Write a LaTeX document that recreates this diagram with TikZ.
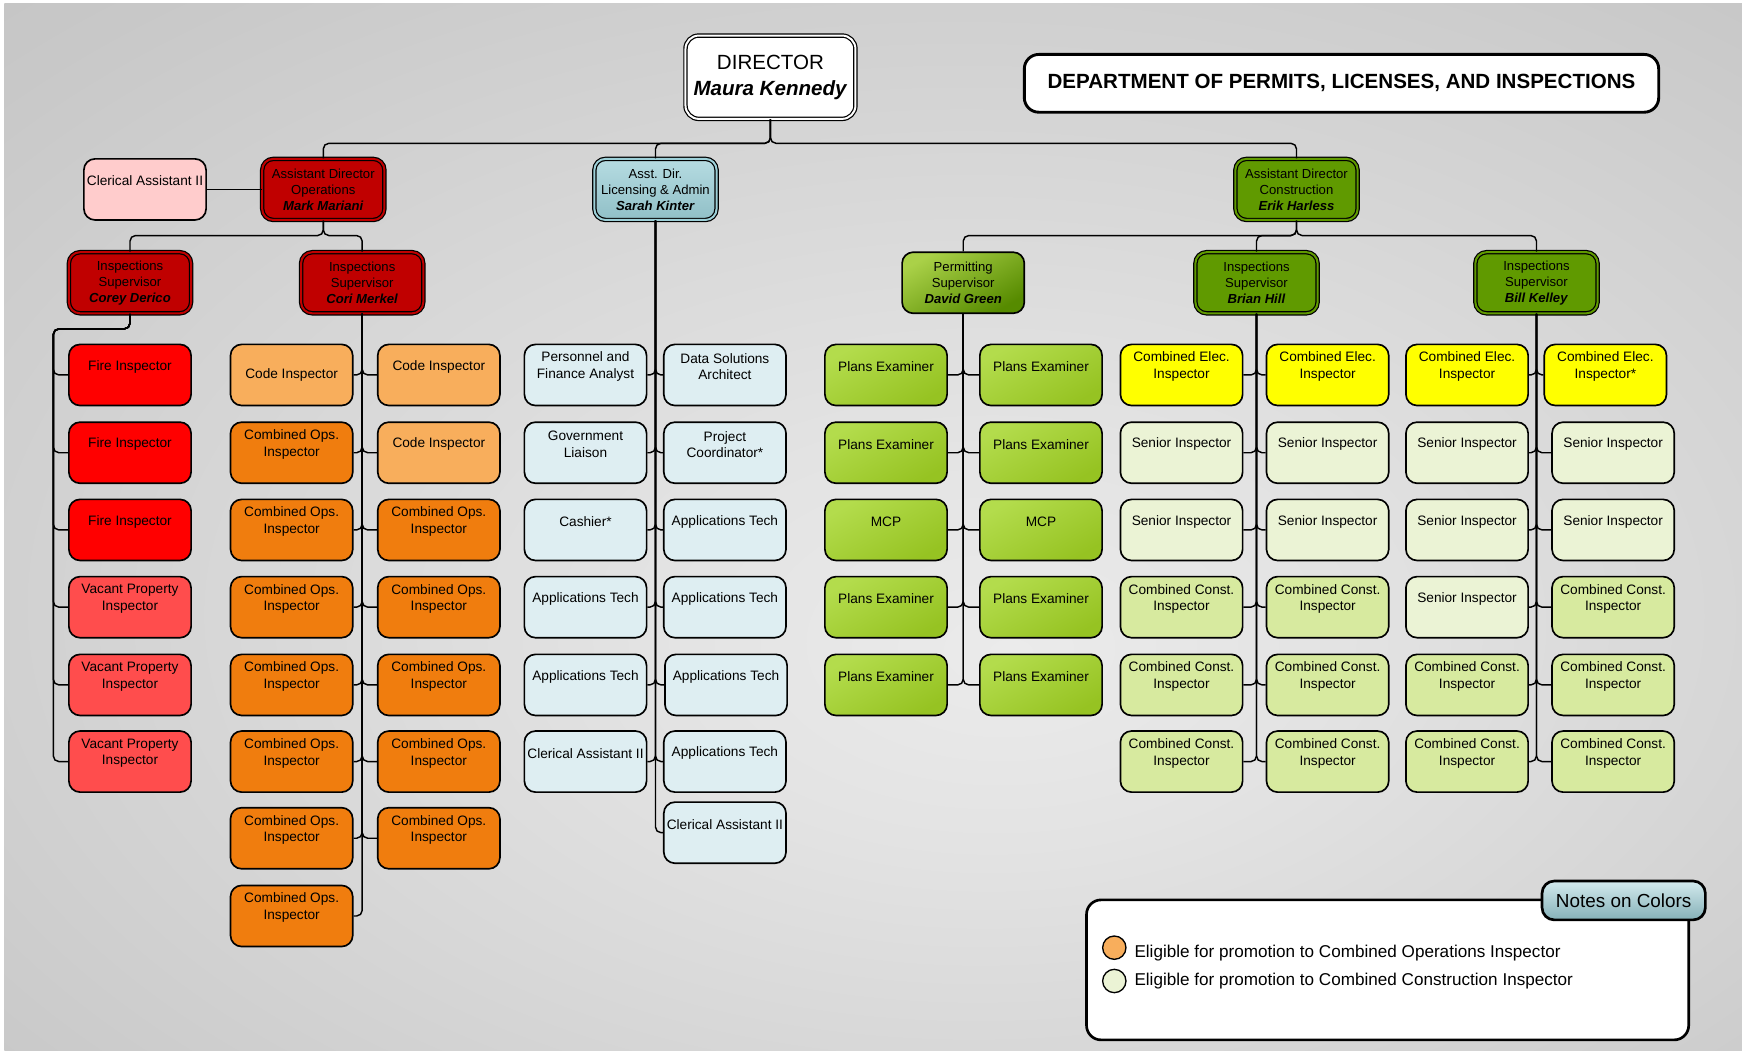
\documentclass[tikz,border=0pt]{standalone}
\usepackage{fontspec}
\setmainfont{Liberation Sans}
\definecolor{bgin}{HTML}{EBEBEB}
\definecolor{bgin2}{HTML}{E3E3E3}
\definecolor{bgmid}{HTML}{C8C8C8}
\definecolor{bgmid2}{HTML}{BEBEBE}
\definecolor{bgout}{HTML}{B7B7B7}
\definecolor{dred}{HTML}{C00000}
\definecolor{fire}{HTML}{FF0000}
\definecolor{vac}{HTML}{FF4D4D}
\definecolor{pinkc}{HTML}{FFCCCC}
\definecolor{codeor}{HTML}{F8AE5C}
\definecolor{combor}{HTML}{F07D0E}
\definecolor{lblue}{HTML}{DEEEF2}
\definecolor{tealc}{HTML}{9DD0D8}
\definecolor{dgreen}{HTML}{609A00}
\definecolor{yel}{HTML}{FFFF00}
\definecolor{senior}{HTML}{EBF3D5}
\definecolor{constc}{HTML}{D7EA9F}
\definecolor{plantop}{HTML}{B3DC4C}
\definecolor{planbot}{HTML}{96C322}
\pgfdeclareradialshading{bgshade}{\pgfpoint{4bp}{-6bp}}{color(0bp)=(bgin); color(10bp)=(bgin2); color(36bp)=(bgmid); color(50bp)=(bgmid2); color(72bp)=(bgout)}
\newcommand\pb[4]{\node[box,#1] (#2) at (#3) {}; \node[lbl] (#2t) at ([yshift=7.5pt]#2.center) {#4};}
\newcommand\pc[4]{\node[box,#1] (#2) at (#3) {}; \node[lbl] (#2t) at (#2.center) {#4};}
\begin{document}
\begin{tikzpicture}[x=1pt,y=-1pt,
  box/.style={draw=black, line width=1.5pt, rounded corners=10pt, minimum width=110pt, minimum height=55pt, inner sep=0pt},
  dbl/.style={line width=1.1pt, double=#1, double distance=1.8pt},
  lbl/.style={align=center, font=\fontsize{12.3}{14.8}\selectfont, inner sep=0pt},
  hd/.style={align=center, font=\fontsize{11.8}{14.5}\selectfont, inner sep=0pt},
  conn/.style={line width=1.3pt, rounded corners=5pt},
  fireb/.style={fill=fire}, vacb/.style={fill=vac},
  codeb/.style={fill=codeor}, combb/.style={fill=combor},
  blueb/.style={fill=lblue},
  plansb/.style={top color=plantop, bottom color=planbot, shading angle=30},
  yelb/.style={fill=yel}, senb/.style={fill=senior}, conb/.style={fill=constc}
]
\useasboundingbox (0,0) rectangle (1568,946);
\fill[white] (0,0) rectangle (1568,946);
\shade[shading=bgshade] (4,3) rectangle (1568,946);

% header
\node[box, dbl=white, fill=white, minimum width=153pt, minimum height=75pt, rounded corners=12pt,
  align=center, font=\fontsize{18.5}{23}\selectfont] (dir) at (693.5,69.5) {DIRECTOR\\\textbf{\textit{Maura Kennedy}}};
\node[draw=black, fill=white, line width=2.6pt, rounded corners=13pt, minimum width=571pt, minimum height=52pt,
  font=\bfseries\fontsize{18.5}{22}\selectfont] (ttl) at (1207.5,75) {DEPARTMENT OF PERMITS, LICENSES, AND INSPECTIONS};

% level 1
\node[box, fill=pinkc] (cla) at (130.5,170.5) {};
\node[lbl] (clat) at ([yshift=7.5pt]cla.center) {Clerical Assistant II};
\node[box, dbl=dred, fill=dred, hd] (aop) at (291,170.5) {Assistant Director\\Operations\\\textbf{\textit{Mark Mariani}}};
\node[box, dbl=tealc, top color=tealc!75!white, bottom color=tealc!92!black, hd] (lic) at (590,170.5) {Asst. Dir.\\Licensing \& Admin\\\textbf{\textit{Sarah Kinter}}};
\node[box, dbl=dgreen, fill=dgreen, hd] (con) at (1167,170.5) {Assistant Director\\Construction\\\textbf{\textit{Erik Harless}}};

% level 2
\node[box, dbl=dred, fill=dred, hd] (corey) at (117,254.5) {Inspections\\Supervisor\\\textbf{\textit{Corey Derico}}};
\node[box, dbl=dred, fill=dred, hd] (cori) at (326,254.5) {Inspections\\Supervisor\\\textbf{\textit{Cori Merkel}}};
\node[box, top color=plantop!95!black, bottom color=dgreen!90!black, shading angle=30, hd] (perm) at (867,254.5) {Permitting\\Supervisor\\\textbf{\textit{David Green}}};
\node[box, dbl=dgreen, fill=dgreen, hd] (brian) at (1131,254.5) {Inspections\\Supervisor\\\textbf{\textit{Brian Hill}}};
\node[box, dbl=dgreen, fill=dgreen, hd] (bill) at (1383,254.5) {Inspections\\Supervisor\\\textbf{\textit{Bill Kelley}}};

% Corey column
\pb{fireb}{c1}{117,337.5}{Fire Inspector}
\pb{fireb}{c2}{117,407.5}{Fire Inspector}
\pb{fireb}{c3}{117,477}{Fire Inspector}
\pb{vacb}{c4}{117,546.5}{Vacant Property\\Inspector}
\pb{vacb}{c5}{117,616.5}{Vacant Property\\Inspector}
\pb{vacb}{c6}{117,685.5}{Vacant Property\\Inspector}

% Cori columns
\pc{codeb}{ol1}{262.5,337.5}{Code Inspector}
\pb{combb}{ol2}{262.5,407.5}{Combined Ops.\\Inspector}
\pb{combb}{ol3}{262.5,477}{Combined Ops.\\Inspector}
\pb{combb}{ol4}{262.5,546.5}{Combined Ops.\\Inspector}
\pb{combb}{ol5}{262.5,616.5}{Combined Ops.\\Inspector}
\pb{combb}{ol6}{262.5,685.5}{Combined Ops.\\Inspector}
\pb{combb}{ol7}{262.5,754.5}{Combined Ops.\\Inspector}
\pb{combb}{ol8}{262.5,824.5}{Combined Ops.\\Inspector}
\pb{codeb}{or1}{395,337.5}{Code Inspector}
\pb{codeb}{or2}{395,407.5}{Code Inspector}
\pb{combb}{or3}{395,477}{Combined Ops.\\Inspector}
\pb{combb}{or4}{395,546.5}{Combined Ops.\\Inspector}
\pb{combb}{or5}{395,616.5}{Combined Ops.\\Inspector}
\pb{combb}{or6}{395,685.5}{Combined Ops.\\Inspector}
\pb{combb}{or7}{395,754.5}{Combined Ops.\\Inspector}

% Licensing columns
\pb{blueb}{bl1}{527,337.5}{Personnel and\\Finance Analyst}
\pb{blueb}{bl2}{527,407.5}{Government\\Liaison}
\pb{blueb}{bl3}{527,477}{Cashier*}
\pb{blueb}{bl4}{527,546.5}{Applications Tech}
\pb{blueb}{bl5}{527,616.5}{Applications Tech}
\pb{blueb}{bl6}{527,685.5}{Clerical Assistant II}
\pb{blueb}{br1}{652.5,337.5}{Data Solutions\\Architect}
\pb{blueb}{br2}{652.5,407.5}{Project\\Coordinator*}
\pb{blueb}{br3}{652.5,477}{Applications Tech}
\pb{blueb}{br4}{652.5,546.5}{Applications Tech}
\pb{blueb}{br5}{653.5,616.5}{Applications Tech}
\pb{blueb}{br6}{652.5,685.5}{Applications Tech}
\pb{blueb}{br7}{652.5,749.5}{Clerical Assistant II}

% Permitting columns
\pb{plansb}{pl1}{797.5,337.5}{Plans Examiner}
\pb{plansb}{pl2}{797.5,407.5}{Plans Examiner}
\pb{plansb}{pl3}{797.5,477}{MCP}
\pb{plansb}{pl4}{797.5,546.5}{Plans Examiner}
\pb{plansb}{pl5}{797.5,616.5}{Plans Examiner}
\pb{plansb}{pr1}{937,337.5}{Plans Examiner}
\pb{plansb}{pr2}{937,407.5}{Plans Examiner}
\pb{plansb}{pr3}{937,477}{MCP}
\pb{plansb}{pr4}{937,546.5}{Plans Examiner}
\pb{plansb}{pr5}{937,616.5}{Plans Examiner}

% Brian columns
\pb{yelb}{hl1}{1063.5,337.5}{Combined Elec.\\Inspector}
\pb{senb}{hl2}{1063.5,407.5}{Senior Inspector}
\pb{senb}{hl3}{1063.5,477}{Senior Inspector}
\pb{conb}{hl4}{1063.5,546.5}{Combined Const.\\Inspector}
\pb{conb}{hl5}{1063.5,616.5}{Combined Const.\\Inspector}
\pb{conb}{hl6}{1063.5,685.5}{Combined Const.\\Inspector}
\pb{yelb}{hr1}{1195,337.5}{Combined Elec.\\Inspector}
\pb{senb}{hr2}{1195,407.5}{Senior Inspector}
\pb{senb}{hr3}{1195,477}{Senior Inspector}
\pb{conb}{hr4}{1195,546.5}{Combined Const.\\Inspector}
\pb{conb}{hr5}{1195,616.5}{Combined Const.\\Inspector}
\pb{conb}{hr6}{1195,685.5}{Combined Const.\\Inspector}

% Bill columns
\pb{yelb}{kl1}{1320.5,337.5}{Combined Elec.\\Inspector}
\pb{senb}{kl2}{1320.5,407.5}{Senior Inspector}
\pb{senb}{kl3}{1320.5,477}{Senior Inspector}
\pb{senb}{kl4}{1320.5,546.5}{Senior Inspector}
\pb{conb}{kl5}{1320.5,616.5}{Combined Const.\\Inspector}
\pb{conb}{kl6}{1320.5,685.5}{Combined Const.\\Inspector}
\pb{yelb}{kr1}{1445,337.5}{Combined Elec.\\Inspector*}
\pb{senb}{kr2}{1452,407.5}{Senior Inspector}
\pb{senb}{kr3}{1452,477}{Senior Inspector}
\pb{conb}{kr4}{1452,546.5}{Combined Const.\\Inspector}
\pb{conb}{kr5}{1452,616.5}{Combined Const.\\Inspector}
\pb{conb}{kr6}{1452,685.5}{Combined Const.\\Inspector}

% connectors
\coordinate (bus0) at (0,129);
\coordinate (bus1) at (0,212);
\coordinate (cbus) at (48,296);
\foreach \t in {aop,lic,con} \draw[conn] (dir.south) -- (dir.south |- bus0) -| (\t.north);
\draw[conn] (cla.east) -- (aop.west);
\foreach \t in {corey,cori} \draw[conn] (aop.south) -- (aop.south |- bus1) -| (\t.north);
\foreach \t in {perm,brian,bill} \draw[conn] (con.south) -- (con.south |- bus1) -| (\t.north);
\foreach \i in {1,...,6} \draw[conn] (corey.south) |- (cbus) |- (c\i.west);
\foreach \i in {1,...,8} \draw[conn] (cori.south) |- (ol\i.east);
\foreach \i in {1,...,7} \draw[conn] (cori.south) |- (or\i.west);
\foreach \i in {1,...,6} \draw[conn] (lic.south) |- (bl\i.east);
\foreach \i in {1,...,7} \draw[conn] (lic.south) |- (br\i.west);
\foreach \i in {1,...,5} {\draw[conn] (perm.south) |- (pl\i.east); \draw[conn] (perm.south) |- (pr\i.west);}
\foreach \i in {1,...,6} {\draw[conn] (brian.south) |- (hl\i.east); \draw[conn] (brian.south) |- (hr\i.west);
  \draw[conn] (bill.south) |- (kl\i.east); \draw[conn] (bill.south) |- (kr\i.west);}

% legend
\node[draw=black, fill=white, line width=2.4pt, rounded corners=13pt, minimum width=542pt, minimum height=126pt] (nb) at (1249,873) {};
\node[draw=black, line width=2.4pt, rounded corners=11pt, minimum width=147pt, minimum height=35pt,
  top color=tealc!45!white, bottom color=tealc!85!black, font=\fontsize{17}{20}\selectfont] (tab) at (1461.5,810.5) {Notes on Colors};
\node[circle, draw=black, line width=1.2pt, fill=codeor, minimum size=21pt, inner sep=0pt] (lc1) at (1003,853) {};
\node[circle, draw=black, line width=1.2pt, fill=senior, minimum size=21pt, inner sep=0pt] (lc2) at (1003,883) {};
\node[anchor=west, inner sep=0pt, font=\fontsize{15.4}{18}\selectfont] (lt1) at (1021,858) {Eligible for promotion to Combined Operations Inspector};
\node[anchor=west, inner sep=0pt, font=\fontsize{15.4}{18}\selectfont] (lt2) at (1021,883) {Eligible for promotion to Combined Construction Inspector};
\end{tikzpicture}
\end{document}
